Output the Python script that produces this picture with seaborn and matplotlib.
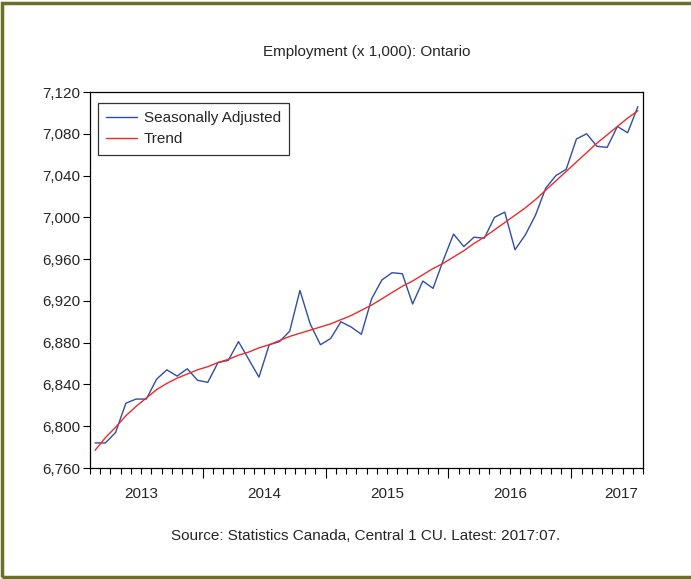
import matplotlib
matplotlib.use("Agg")
import matplotlib.pyplot as plt
from matplotlib.patches import Rectangle
from matplotlib.ticker import FixedLocator, FuncFormatter
import seaborn as sns
import pandas as pd

# monthly data, 2013:02 - 2017:07 (thousands)
months = pd.period_range("2013-02", "2017-07", freq="M").astype(str).tolist()
seasonally_adjusted = [
    6784, 6784, 6794, 6822, 6826, 6826, 6845, 6854, 6848, 6855,
    6844, 6842, 6861, 6863, 6881, 6864, 6847, 6878, 6881, 6891,
    6930, 6898, 6878, 6884, 6900, 6895, 6888, 6922, 6940, 6947,
    6946, 6917, 6939, 6932, 6959, 6984, 6972, 6981, 6980, 7000,
    7005, 6969, 6983, 7002, 7028, 7040, 7046, 7075, 7080, 7068,
    7067, 7087, 7081, 7106,
]
trend = [
    6777, 6789, 6799, 6810, 6819, 6827, 6835, 6841, 6846, 6850,
    6854, 6857, 6861, 6864, 6868, 6871, 6875, 6878, 6882, 6886,
    6889, 6892, 6895, 6898, 6902, 6906, 6911, 6916, 6922, 6928,
    6934, 6939, 6945, 6951, 6956, 6962, 6968, 6975, 6981, 6988,
    6995, 7002, 7009, 7017, 7026, 7035, 7044, 7053, 7062, 7071,
    7079, 7087, 7095, 7102,
]
year_labels = ["2013", "2014", "2015", "2016", "2017"]
y_ticks = [6760, 6800, 6840, 6880, 6920, 6960, 7000, 7040, 7080, 7120]

sns.set_style("white")
plt.rcParams["font.family"] = ["Liberation Sans", "DejaVu Sans"]
plt.rcParams["font.size"] = 11

df = pd.DataFrame({
    "month": months,
    "idx": range(len(months)),
    "Seasonally Adjusted": seasonally_adjusted,
    "Trend": trend,
})
long_df = df.melt(id_vars=["month", "idx"], var_name="series", value_name="value")

fig = plt.figure(figsize=(6.91, 5.79), dpi=100)
ax = fig.add_axes([90 / 691, 1 - 468 / 579, 553 / 691, 376 / 579])

sns.lineplot(data=long_df, x="idx", y="value", hue="series",
             palette={"Seasonally Adjusted": "#2f4ea6", "Trend": "#ee2a2a"},
             linewidth=1.0, ax=ax)

n = len(months)
ax.set_xlim(-0.5, n - 0.5)
ax.set_ylim(y_ticks[0], y_ticks[-1])

# y axis
ax.yaxis.set_major_locator(FixedLocator(y_ticks))
ax.yaxis.set_major_formatter(FuncFormatter(lambda v, p: f"{int(v):,}"))
ax.tick_params(axis="y", direction="out", length=5, width=0.8, color="black",
               labelsize=11, pad=2, left=True, right=False)

# x axis: minor ticks at month boundaries, major at year boundaries
first_month = int(months[0][5:7])
year_starts = [i - 0.5 for i, m in enumerate(months) if m.endswith("-01")]
ax.set_xticks(year_starts)
ax.set_xticklabels([])
ax.set_xticks([i - 0.5 for i in range(n + 1)], minor=True)
ax.tick_params(axis="x", which="major", direction="out", length=7, width=0.8,
               color="black", bottom=True)
ax.tick_params(axis="x", which="minor", direction="out", length=4, width=0.8,
               color="black", bottom=True)

offset = first_month - 1
for k, lab in enumerate(year_labels):
    center = 12 * k - offset + 5.5
    center = min(center, n - 2.6)
    ax.text(center, -0.05, lab, transform=ax.get_xaxis_transform(),
            ha="center", va="top", fontsize=11)

ax.set_xlabel("")
ax.set_ylabel("")
for s in ax.spines.values():
    s.set_visible(True)
    s.set_color("black")
    s.set_linewidth(0.9)

leg = ax.legend(loc="upper left", bbox_to_anchor=(0.0145, 0.971),
                borderaxespad=0, frameon=True, fancybox=False,
                edgecolor="black", fontsize=11, handlelength=2.0,
                handletextpad=0.45, borderpad=0.55, labelspacing=0.45)
leg.get_frame().set_linewidth(0.9)
leg.set_title(None)

fig.text(366.5 / 691, 1 - 52 / 579, "Employment (x 1,000): Ontario",
         ha="center", va="center", fontsize=11)
fig.text(366 / 691, 1 - 536 / 579,
         "Source: Statistics Canada, Central 1 CU. Latest: 2017:07.",
         ha="center", va="center", fontsize=11)

# olive frame around the figure
fig.add_artist(Rectangle((2 / 691, 2 / 579), 1.2, 1 - 5 / 579,
                         transform=fig.transFigure, fill=False,
                         edgecolor="#6d6d2c", linewidth=2.5))

fig.savefig("out.png", dpi=100)
